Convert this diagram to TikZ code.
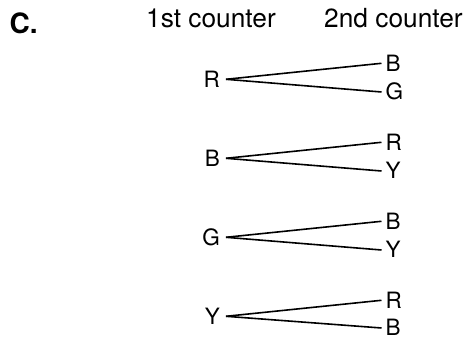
\documentclass[tikz,border=0pt]{standalone}
\usepackage{fontspec}
\setmainfont{TeX Gyre Heros}
\begin{document}
\begin{tikzpicture}[x=1pt,y=-1pt,
  heading/.style={anchor=base west,inner sep=0pt,font=\fontsize{26.3}{30}\selectfont},
  rootlbl/.style={anchor=east,inner xsep=6pt,inner ysep=0pt,text height=16pt,text depth=0pt,font=\fontsize{22.5}{27}\selectfont},
  leaflbl/.style={anchor=west,inner xsep=4pt,inner ysep=0pt,text height=16pt,text depth=0pt,font=\fontsize{22.5}{27}\selectfont},
  branch/.style={line width=1.6pt,black}]
\useasboundingbox (0,0) rectangle (464,339);
\node[anchor=base west,inner sep=0pt,font=\fontsize{28}{32}\selectfont\bfseries] (lbl) at (9.5,33.3) {C.};
\node[heading] (h1) at (146,27.3) {1st counter};
\node[heading] (h2) at (324,27.3) {2nd counter};
% group 1
\node[rootlbl] (r1) at (226,79.3) {R};
\node[leaflbl] (r1a) at (381.5,63.3) {B};
\node[leaflbl] (r1b) at (381.5,92) {G};
% group 2
\node[rootlbl] (r2) at (226,158.3) {B};
\node[leaflbl] (r2a) at (381.5,142.3) {R};
\node[leaflbl] (r2b) at (381.5,171) {Y};
% group 3
\node[rootlbl] (r3) at (226,237.3) {G};
\node[leaflbl] (r3a) at (381.5,221.3) {B};
\node[leaflbl] (r3b) at (381.5,250) {Y};
% group 4
\node[rootlbl] (r4) at (226,316.3) {Y};
\node[leaflbl] (r4a) at (381.5,300.3) {R};
\node[leaflbl] (r4b) at (381.5,328) {B};
\foreach \n in {1,2,3,4}{
  \draw[branch] (r\n.east) -- (r\n a.west);
  \draw[branch] (r\n.east) -- (r\n b.west);
}
\end{tikzpicture}
\end{document}
